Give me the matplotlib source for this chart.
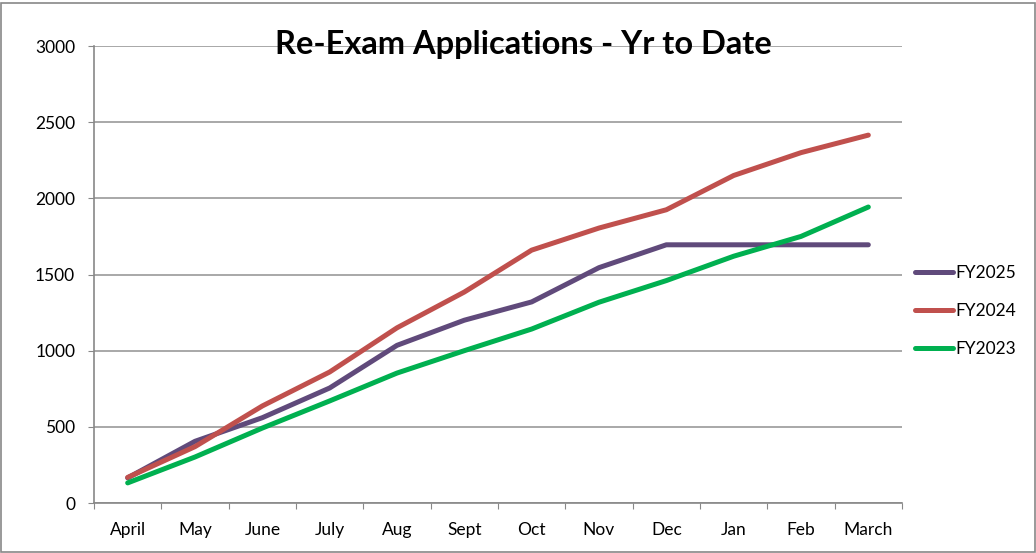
import matplotlib.pyplot as plt
from matplotlib.patches import Rectangle

months = ['April', 'May', 'June', 'July', 'Aug', 'Sept', 'Oct', 'Nov', 'Dec', 'Jan', 'Feb', 'March']
fy2025 = [165, 405, 560, 755, 1035, 1200, 1320, 1545, 1695, 1695, 1695, 1695]
fy2024 = [168, 370, 637, 860, 1150, 1385, 1660, 1805, 1925, 2150, 2300, 2415]
fy2023 = [132, 302, 492, 670, 853, 1000, 1142, 1318, 1460, 1620, 1750, 1943]

plt.rcParams['font.family'] = ['Lato', 'DejaVu Sans']
fig = plt.figure(figsize=(10.36, 5.53), dpi=100)
ax = fig.add_axes([94/1036, 1 - 503/553, 808/1036, 457/553])

x = list(range(len(months)))
ax.plot(x, fy2025, color='#604a7b', lw=3.6, label='FY2025', solid_capstyle='round')
ax.plot(x, fy2024, color='#c0504d', lw=3.6, label='FY2024', solid_capstyle='round')
ax.plot(x, fy2023, color='#00b050', lw=3.6, label='FY2023', solid_capstyle='round')

ax.set_xlim(-0.5, len(months) - 0.5)
ax.set_ylim(0, 3000)
ax.set_yticks(range(0, 3001, 500))
ax.set_xticks([i - 0.5 for i in range(len(months) + 1)])
ax.set_xticklabels([])
ax.set_xticks(x, minor=True)
ax.set_xticklabels(months, minor=True, fontsize=12.5)
ax.tick_params(axis='x', which='minor', length=0, pad=14)
ax.tick_params(axis='x', which='major', length=4.5, color='#888888', direction='out')
ax.tick_params(axis='y', length=4.5, color='#888888', labelsize=12.5, pad=9)
ax.grid(axis='y', color='#999999', lw=1.2)
ax.set_axisbelow(True)
for s in ['top', 'right']:
    ax.spines[s].set_visible(False)
for s in ['left', 'bottom']:
    ax.spines[s].set_color('#888888')
    ax.spines[s].set_linewidth(1.2)

ax.set_title('Re-Exam Applications - Yr to Date', fontsize=23.5, fontweight='bold', x=0.531, y=0.965)

leg = ax.legend(loc='center left', bbox_to_anchor=(0.997, 0.42), frameon=False,
                fontsize=12.5, handlelength=2.2, handletextpad=0.1, labelspacing=1.25)

fig.patches.append(Rectangle((1/1036, 1/553), 1 - 2/1036, 1 - 4/553, transform=fig.transFigure,
                             fill=False, edgecolor='#888888', lw=1.2))

fig.savefig('out.png', dpi=100)
